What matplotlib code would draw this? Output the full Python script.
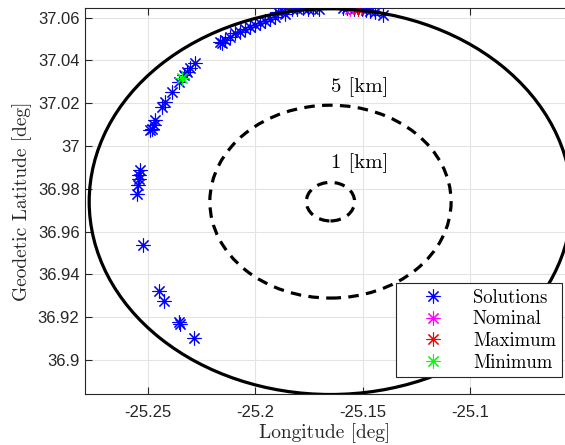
import matplotlib.pyplot as plt
from matplotlib.patches import Ellipse
import numpy as np

# solution positions [deg]
sol_lon = [-25.2288, -25.2349, -25.2354, -25.2424, -25.2447, -25.2525,
           -25.2551, -25.2548, -25.2544, -25.2541, -25.2536,
           -25.2489, -25.2481, -25.2474, -25.2466, -25.2435, -25.2419,
           -25.2388, -25.2357, -25.2334, -25.2318, -25.2303, -25.2280,
           -25.2163, -25.2155, -25.2140, -25.2116, -25.2093, -25.2070,
           -25.2047, -25.2023, -25.2000, -25.1977, -25.1953, -25.1930,
           -25.1907, -25.1893, -25.1874, -25.1860, -25.1828, -25.1804,
           -25.1776, -25.1753, -25.1730, -25.1702, -25.1590, -25.1571,
           -25.1539, -25.1501, -25.1483, -25.1464, -25.1441, -25.1404]
sol_lat = [36.9101, 36.9168, 36.9176, 36.9277, 36.9324, 36.9538,
           36.9777, 36.9816, 36.9847, 36.9863, 36.9886,
           37.0074, 37.0081, 37.0097, 37.0120, 37.0183, 37.0206,
           37.0253, 37.0300, 37.0331, 37.0347, 37.0363, 37.0389,
           37.0487, 37.0480, 37.0495, 37.0511, 37.0526, 37.0534,
           37.0545, 37.0555, 37.0565, 37.0576, 37.0585, 37.0593,
           37.0601, 37.0626, 37.0631, 37.0617, 37.0642, 37.0642,
           37.0643, 37.0642, 37.0642, 37.0641, 37.0643, 37.0644,
           37.0642, 37.0640, 37.0636, 37.0631, 37.0626, 37.0612]
nom_lon, nom_lat = [-25.1557], [37.0642]
max_lon, max_lat = [-25.1520], [37.0640]
min_lon, min_lat = [-25.2342], [37.0320]

# range circles
center_lon, center_lat = -25.165, 36.974
radii_km = [1, 5, 10]
radii_style = ['--', '--', '-']
km_per_deg_lat = 110.95
km_per_deg_lon = 111.32 * np.cos(np.deg2rad(center_lat))

xticks = [-25.25, -25.2, -25.15, -25.1]
xtick_labels = ['-25.25', '-25.2', '-25.15', '-25.1']
yticks = [36.9, 36.92, 36.94, 36.96, 36.98, 37.0, 37.02, 37.04, 37.06]
ytick_labels = ['36.9', '36.92', '36.94', '36.96', '36.98', '37', '37.02', '37.04', '37.06']

serif = 'cmr10'
tick_col = '#262626'

fig = plt.figure(figsize=(5.65, 4.45), dpi=100)
ax = fig.add_axes([85/565, 51/445, 480/565, 386/445])

star = (8, 2, 0)
ax.plot(sol_lon, sol_lat, ls='none', marker=star, ms=10, mew=0.8, color=(0, 0, 1), label='Solutions', zorder=3)
ax.plot(nom_lon, nom_lat, ls='none', marker=star, ms=10, mew=0.8, color=(1, 0, 1), label='Nominal', zorder=3)
ax.plot(max_lon, max_lat, ls='none', marker=star, ms=10, mew=0.8, color=(1, 0, 0), label='Maximum', zorder=3)
ax.plot(min_lon, min_lat, ls='none', marker=star, ms=10, mew=0.8, color=(0, 1, 0), label='Minimum', zorder=3)

for r, st in zip(radii_km, radii_style):
    e = Ellipse((center_lon, center_lat), 2*r/km_per_deg_lon, 2*r/km_per_deg_lat,
                fill=False, edgecolor='k', lw=2.3, zorder=4)
    if st == '--':
        e.set_linestyle((0, (3.3, 2.3)))
    ax.add_patch(e)

ax.text(-25.1512, 37.0275, '5 [km]', fontfamily=serif, fontsize=15, ha='center', va='center')
ax.text(-25.1512, 36.9918, '1 [km]', fontfamily=serif, fontsize=15, ha='center', va='center')

ax.set_xlim(-25.2794, -25.0557)
ax.set_ylim(36.8841, 37.0645)
ax.set_xticks(xticks, labels=xtick_labels)
ax.set_yticks(yticks, labels=ytick_labels)
for lab in ax.get_xticklabels() + ax.get_yticklabels():
    lab.set_fontfamily('Liberation Sans')
    lab.set_fontsize(12)
    lab.set_color(tick_col)

ax.tick_params(direction='in', length=5, width=0.8, color=tick_col, top=True, right=False)
ax.tick_params(axis='x', pad=8)
ax.tick_params(axis='y', pad=4)
ax.grid(True, color='#e3e3e3', lw=0.8)
ax.set_axisbelow(True)
for s in ['left', 'bottom', 'top']:
    ax.spines[s].set_color(tick_col)
    ax.spines[s].set_linewidth(0.8)
ax.spines['right'].set_visible(False)

ax.set_xlabel('Longitude [deg]', fontfamily=serif, fontsize=14, color=tick_col, labelpad=2)
ax.set_ylabel('Geodetic Latitude [deg]', fontfamily=serif, fontsize=14, color=tick_col, labelpad=4)

leg = ax.legend(loc='upper left', bbox_to_anchor=(396/565, 1 - 283/445), bbox_transform=fig.transFigure,
                borderaxespad=0, fancybox=False, framealpha=1, edgecolor=tick_col,
                prop={'family': serif, 'size': 13.5}, handlelength=3.3, handletextpad=0.5,
                labelspacing=0.2, borderpad=0.3)
leg.get_frame().set_linewidth(0.8)
leg.set_zorder(10)

fig.savefig('out.png', dpi=100)
